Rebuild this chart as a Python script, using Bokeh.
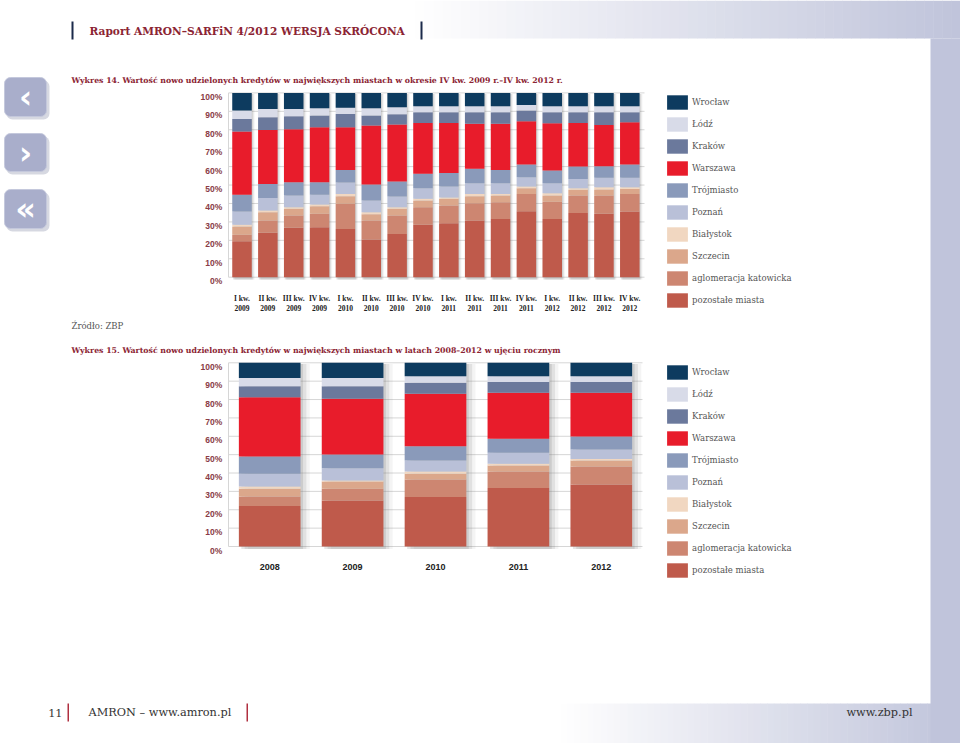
import numpy as np
from bokeh.plotting import figure
from bokeh.models import Range1d, ColumnDataSource, Legend, LegendItem
from bokeh.core.properties import value
from bokeh.embed import file_html
from bokeh.resources import INLINE

# ---------------- data ----------------
series = ["pozostałe miasta", "aglomeracja katowicka", "Szczecin", "Białystok", "Poznań",
          "Trójmiasto", "Warszawa", "Kraków", "Łódź", "Wrocław"]
colors = ["#bf5a4b", "#cd8671", "#dba78b", "#f1d7c1", "#b9c0d8",
          "#8a9aba", "#e81c2b", "#6b799c", "#d8dbe8", "#0d3b5f"]

quarters = ["I kw.", "II kw.", "III kw.", "IV kw."] * 4
quarter_years = ["2009"] * 4 + ["2010"] * 4 + ["2011"] * 4 + ["2012"] * 4

q_pozostale = [19.5, 24.1, 26.8, 27.1, 26.2, 20.4, 23.5, 28.4, 29.3, 30.7, 31.6, 35.8, 31.6, 34.9, 34.4, 35.6]
q_katowicka = [3.6, 6.6, 6.7, 7.3, 13.6, 10.3, 10.0, 9.6, 9.6, 9.4, 9.1, 9.4, 9.4, 9.4, 9.9, 9.6]
q_szczecin = [4.4, 4.6, 3.6, 4.1, 4.1, 3.5, 3.6, 3.6, 3.6, 3.8, 3.6, 3.1, 3.3, 3.1, 3.3, 2.7]
q_bialystok = [0.9, 0.9, 0.9, 0.9, 1.3, 1.1, 0.9, 0.9, 0.7, 1.3, 0.9, 0.9, 1.3, 0.9, 1.2, 0.9]
q_poznan = [7.2, 6.8, 6.3, 5.4, 6.2, 6.3, 5.8, 5.8, 6.0, 5.8, 5.8, 5.0, 5.4, 5.0, 5.1, 5.1]
q_trojmiasto = [9.2, 7.6, 7.2, 6.7, 6.8, 8.7, 8.1, 7.8, 7.4, 7.8, 7.2, 6.9, 6.9, 6.7, 6.3, 7.2]
q_warszawa = [34.2, 29.3, 28.8, 29.9, 23.2, 32.0, 30.9, 27.6, 27.1, 24.4, 25.0, 23.5, 25.6, 23.7, 22.4, 23.0]
q_krakow = [6.9, 6.9, 7.0, 6.3, 7.2, 5.4, 5.6, 5.8, 5.8, 6.3, 6.3, 5.8, 6.0, 5.8, 6.9, 5.4]
q_lodz = [4.5, 4.5, 4.0, 4.0, 3.4, 4.0, 3.8, 3.3, 3.3, 3.3, 3.3, 3.1, 3.3, 3.3, 3.3, 3.3]
q_wroclaw = [9.6, 8.7, 8.7, 8.3, 8.0, 8.3, 7.8, 7.2, 7.2, 7.2, 7.2, 6.5, 7.2, 7.2, 7.2, 7.2]

years = ["2008", "2009", "2010", "2011", "2012"]
y_pozostale = [22.0, 25.0, 26.9, 31.8, 33.8]
y_katowicka = [5.2, 6.4, 9.6, 9.0, 9.8]
y_szczecin = [4.2, 4.0, 3.1, 3.3, 3.2]
y_bialystok = [1.3, 0.5, 1.2, 0.9, 0.9]
y_poznan = [6.9, 6.7, 6.0, 6.0, 5.1]
y_trojmiasto = [9.4, 7.5, 7.8, 7.6, 7.1]
y_warszawa = [32.3, 30.3, 28.5, 25.1, 23.8]
y_krakow = [6.0, 6.9, 6.0, 5.8, 5.8]
y_lodz = [4.4, 4.4, 3.6, 3.2, 3.2]
y_wroclaw = [8.3, 8.3, 7.3, 7.3, 7.3]

pct_ticks = [0, 10, 20, 30, 40, 50, 60, 70, 80, 90, 100]
pct_labels = ["0%", "10%", "20%", "30%", "40%", "50%", "60%", "70%", "80%", "90%", "100%"]

title_header = "Raport AMRON–SARFiN 4/2012 WERSJA SKRÓCONA"
title_14 = "Wykres 14. Wartość nowo udzielonych kredytów w największych miastach w okresie IV kw. 2009 r.–IV kw. 2012 r."
title_15 = "Wykres 15. Wartość nowo udzielonych kredytów w największych miastach w latach 2008–2012 w ujęciu rocznym"
source_text = "Źródło: ZBP"

# ---------------- page geometry ----------------
W, H = 960, 743
OX, OY = 0, 0


def page_range(v0, px0, v1, px1, axis):
    """Range1d so that data v0 sits at page pixel px0 and v1 at px1."""
    if axis == "x":
        a0, a1, L = px0 - OX, px1 - OX, W
    else:
        a0, a1, L = (OY + H) - px0, (OY + H) - px1, H
    k = (v1 - v0) / (a1 - a0)
    start = v0 - a0 * k
    return Range1d(start, start + L * k)


p = figure(width=W, height=H, x_range=Range1d(OX, OX + W), y_range=Range1d(OY + H, OY),
           output_backend="svg", toolbar_location=None, min_border=0,
           x_axis_location=None, y_axis_location=None)
p.grid.visible = False
p.outline_line_color = None
p.background_fill_color = "white"
p.border_fill_color = "white"

p.extra_x_ranges = {"c1x": page_range(0, 241.5, 15, 629.3, "x"),
                    "c2x": page_range(0, 269.2, 4, 600.8, "x")}
p.extra_y_ranges = {"c1y": page_range(0, 276.7, 100, 92.4, "y"),
                    "c2y": page_range(0, 546.0, 100, 362.3, "y")}

# ---------------- page decoration ----------------
band = np.array([192, 196, 219])


def grad_colors(n):
    out = []
    for i in range(n):
        f = (i + 0.5) / n
        c = (255 - f * (255 - band)).astype(int)
        out.append("#%02x%02x%02x" % tuple(c))
    return out


n = 60
gx = np.linspace(415, 960, n + 1)
p.quad(left=gx[:-1], right=gx[1:] + 0.5, top=0, bottom=38, color=grad_colors(n), line_color=None)
gx2 = np.linspace(560, 960, n + 1)
p.quad(left=gx2[:-1], right=gx2[1:] + 0.5, top=703, bottom=743, color=grad_colors(n), line_color=None)
p.quad(left=930, right=960, top=38, bottom=743, color="#c0c4db", line_color=None)

# header bars and title
p.quad(left=[71, 420], right=[73, 422], top=[21, 21], bottom=[39, 39], color="#1b2a4b", line_color=None)
p.text(x=[89], y=[30], text=[title_header], text_font=value("DejaVu Serif"), text_font_style="bold",
       text_font_size="10.6px", text_color="#8b2433", text_baseline="middle")

# left navigation buttons
btn_top = [77, 133, 189]
btn_bot = [116, 171, 228]
p.quad(left=[6, 6, 6], right=[49, 49, 49], top=[t + 3 for t in btn_top], bottom=[b + 3 for b in btn_bot],
       color="#8a8fa8", alpha=0.35, line_color=None, border_radius=6)
p.quad(left=[4, 4, 4], right=[46, 46, 46], top=btn_top, bottom=btn_bot,
       color="#a9aecb", line_color="#c4c8dc", border_radius=6)
p.text(x=[25, 25, 25], y=[(t + b) / 2 for t, b in zip(btn_top, btn_bot)], text=["‹", "›", "«"],
       text_font=value("DejaVu Sans"), text_font_style="bold", text_font_size="32px",
       text_color="white", text_align="center", text_baseline="middle")

# chart titles / source
p.text(x=[71, 71], y=[80, 350], text=[title_14, title_15], text_font=value("DejaVu Serif"),
       text_font_style="bold", text_font_size="7.8px", text_color="#8b2433", text_baseline="middle")
p.text(x=[71], y=[325], text=[source_text], text_font=value("DejaVu Serif"),
       text_font_size="8.5px", text_color="#555555", text_baseline="middle")

# footer
p.quad(left=[67, 246], right=[68.5, 247.5], top=[703, 703], bottom=[721, 721], color="#b03040", line_color=None)
p.text(x=[62, 88, 912], y=[712, 712, 712], text=["11", "AMRON – www.amron.pl", "www.zbp.pl"],
       text_align=["right", "left", "right"], text_font=value("DejaVu Serif"), text_font_size="11.3px",
       text_color="#333333", text_baseline="middle")


# ---------------- charts ----------------
def chart(xr, yr, cats, data, xline, bar_w, legend_top_px):
    idx = list(range(len(cats)))
    src = ColumnDataSource(dict(x=idx, **{s: d for s, d in zip(series, data)}))
    p.segment(x0=xline[0], x1=xline[1], y0=pct_ticks, y1=pct_ticks, y_range_name=yr,
              line_color="#d6d6d6", line_width=1)
    p.segment(x0=xline[0], x1=xline[0], y0=0, y1=100, y_range_name=yr, line_color="#d6d6d6", line_width=1)
    for off, a in ((0.03, 0.18), (0.07, 0.14), (0.11, 0.08)):
        p.vbar(x=[i + off for i in idx], width=bar_w, top=100 - 0.6, bottom=-1.3,
               x_range_name=xr, y_range_name=yr, color="#707070", alpha=a, line_color=None)
    rs = p.vbar_stack(series, x="x", width=bar_w, source=src, color=colors, line_color=None,
                      x_range_name=xr, y_range_name=yr)
    p.text(x=221.7, y=pct_ticks, text=pct_labels, y_range_name=yr, text_font=value("Liberation Sans"),
           text_font_style="bold", text_font_size="8.5px", text_color="#8a3c46",
           text_align="right", text_baseline="middle", y_offset=4)
    legend = Legend(items=[LegendItem(label=s, renderers=[r]) for s, r in zip(series[::-1], rs[::-1])],
                    location=(664.1 - OX, H - (legend_top_px - OY) - 216), glyph_width=26, glyph_height=18,
                    label_height=18, spacing=4, padding=0, margin=0, label_standoff=2,
                    border_line_color=None, background_fill_alpha=0,
                    label_text_font="DejaVu Serif", label_text_font_size="8.5px",
                    label_text_color="#555555")
    p.add_layout(legend)
    return idx


i1 = chart("c1x", "c1y", quarters,
           [q_pozostale, q_katowicka, q_szczecin, q_bialystok, q_poznan, q_trojmiasto,
            q_warszawa, q_krakow, q_lodz, q_wroclaw], (228, 644), 0.755, 93.2)
p.text(x=i1, y=298.3, text=quarters, x_range_name="c1x", text_font=value("Liberation Serif"),
       text_font_style="bold", text_font_size="7.5px", text_color="#222222",
       text_align="center", text_baseline="middle")
p.text(x=i1, y=307.0, text=quarter_years, x_range_name="c1x", text_font=value("Liberation Serif"),
       text_font_style="bold", text_font_size="7.5px", text_color="#222222",
       text_align="center", text_baseline="middle")

i2 = chart("c2x", "c2y", years,
           [y_pozostale, y_katowicka, y_szczecin, y_bialystok, y_poznan, y_trojmiasto,
            y_warszawa, y_krakow, y_lodz, y_wroclaw], (228, 642), 0.744, 363.2)
p.text(x=i2, y=566.7, text=years, x_range_name="c2x", text_font=value("Liberation Sans"),
       text_font_style="bold", text_font_size="9px", text_color="#222222",
       text_align="center", text_baseline="middle")

open("out.html", "w").write(file_html(p, INLINE))
